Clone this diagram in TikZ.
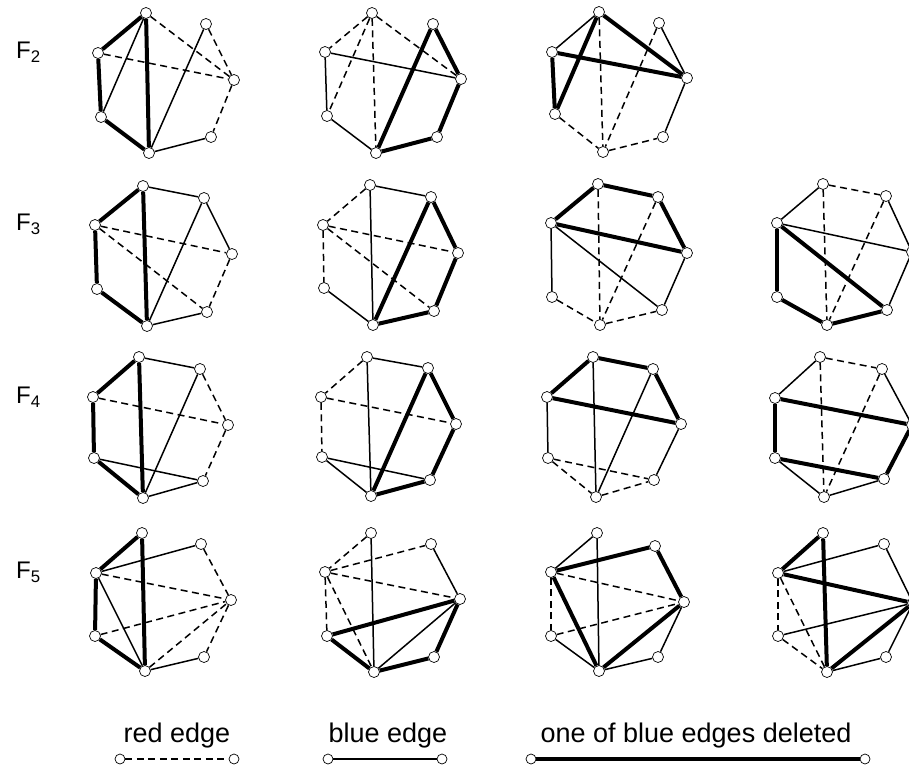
\documentclass[tikz,border=0pt]{standalone}
\usepackage{fontspec}
\setmainfont{Liberation Sans}
\newcommand\mkgraph[2]{\foreach \i/\p in {#2}{\node[vtx] (#1\i) at (\p) {};}}
\newcommand\edges[3]{\foreach \a/\b in {#3}{\draw[#2] (#1\a) -- (#1\b);}}
\begin{document}
\begin{tikzpicture}[x=1pt,y=-1pt,
  vtx/.style={circle,draw,fill=white,line width=0.7pt,inner sep=0pt,minimum size=11pt},
  redE/.style={line width=1.5pt,dash pattern=on 7pt off 4.5pt},
  blueE/.style={line width=1.5pt},
  delE/.style={line width=4pt},
  lab/.style={font=\fontsize{24}{28}\selectfont,anchor=base west,inner sep=0pt},
  leg/.style={font=\fontsize{27}{32}\selectfont,anchor=base,inner sep=0pt}]
\useasboundingbox (0,0) rectangle (909,773);
\fill[white] (0,0) rectangle (909,773);

% labels
\node[lab] (f2) at (16,58.6) {F\textsubscript{2}};
\node[lab] (f3) at (16,230.6) {F\textsubscript{3}};
\node[lab] (f4) at (16,403.6) {F\textsubscript{4}};
\node[lab] (f5) at (16,578.6) {F\textsubscript{5}};

% row 1
\mkgraph{A}{1/{146,13},2/{206,24},3/{234,80},4/{211,137},5/{149,153},6/{101,117},7/{98,53}}
\mkgraph{B}{1/{372,13},2/{433,24},3/{461,79},4/{437,137},5/{376,153},6/{327,116},7/{325,52}}
\mkgraph{C}{1/{599,12},2/{659,23},3/{687,78},4/{663,137},5/{603,152},6/{555,114},7/{552,52}}
% row 2
\mkgraph{D}{1/{143,186},2/{204,198},3/{232,254},4/{207,312},5/{147,326},6/{97,289},7/{95,225}}
\mkgraph{E}{1/{370,185},2/{431,197},3/{458,253},4/{434,311},5/{373,325},6/{324,288},7/{323,225}}
\mkgraph{F}{1/{598,184},2/{658,197},3/{687,253},4/{662,310},5/{600,325},6/{552,297},7/{551,223}}
\mkgraph{G}{1/{823,184},2/{886,196},3/{912,252},4/{887,310},5/{827,325},6/{777,297},7/{777,223}}
% row 3
\mkgraph{H}{1/{139,357},2/{200,369},3/{228,425},4/{203,481},5/{143,498},6/{94,458},7/{93,397}}
\mkgraph{I}{1/{367,357},2/{428,368},3/{456,424},4/{430,480},5/{371,496},6/{322,457},7/{321,397}}
\mkgraph{J}{1/{593,357},2/{653,369},3/{681,424},4/{654,480},5/{596,497},6/{548,458},7/{547,397}}
\mkgraph{K}{1/{820,357},2/{882,369},3/{912,425},4/{884,479},5/{824,497},6/{775,458},7/{775,398}}
% row 4
\mkgraph{L}{1/{142,533},2/{201,544},3/{231,600},4/{204,657},5/{145,671},6/{95,636},7/{96,573}}
\mkgraph{M}{1/{371,533},2/{431,544},3/{460,599},4/{434,657},5/{374,672},6/{327,636},7/{325,572}}
\mkgraph{N}{1/{597,533},2/{655,546},3/{684,602},4/{658,657},5/{599,671},6/{551,636},7/{551,572}}
\mkgraph{O}{1/{823,533},2/{884,544},3/{913,603},4/{886,657},5/{827,672},6/{778,636},7/{778,573}}

% edges row 1
\edges{A}{delE}{1/7,7/6,6/5,1/5}
\edges{A}{blueE}{1/6,2/5,5/4}
\edges{A}{redE}{1/3,7/3,2/3,3/4}
\edges{B}{redE}{1/7,1/6,1/5,1/3}
\edges{B}{blueE}{7/3,7/6,6/5}
\edges{B}{delE}{2/5,2/3,3/4,4/5}
\edges{C}{blueE}{1/7,2/3,3/4}
\edges{C}{delE}{1/6,1/3,7/3,7/6}
\edges{C}{redE}{1/5,2/5,6/5,5/4}
% edges row 2
\edges{D}{delE}{1/7,1/5,7/6,6/5}
\edges{D}{blueE}{1/2,2/3,2/5,5/4}
\edges{D}{redE}{7/3,7/4,3/4}
\edges{E}{redE}{1/7,7/6,7/3,7/4}
\edges{E}{blueE}{1/2,1/5,6/5}
\edges{E}{delE}{2/5,2/3,3/4,4/5}
\edges{F}{delE}{1/7,1/2,2/3,7/3}
\edges{F}{redE}{1/5,2/5,6/5,5/4}
\edges{F}{blueE}{7/4,7/6,3/4}
\edges{G}{blueE}{1/7,2/3,7/3,3/4}
\edges{G}{redE}{1/2,1/5,2/5}
\edges{G}{delE}{7/4,7/6,6/5,5/4}
% edges row 3
\edges{H}{delE}{1/7,1/5,7/6,6/5}
\edges{H}{blueE}{1/2,2/5,6/4,5/4}
\edges{H}{redE}{2/3,7/3,3/4}
\edges{I}{redE}{1/7,7/3,7/6}
\edges{I}{blueE}{1/2,1/5,6/4,6/5}
\edges{I}{delE}{2/5,2/3,3/4,5/4}
\edges{J}{delE}{1/7,1/2,2/3,7/3}
\edges{J}{blueE}{1/5,2/5,7/6,3/4}
\edges{J}{redE}{6/4,6/5,5/4}
\edges{K}{blueE}{1/7,2/3,6/5,5/4}
\edges{K}{redE}{1/2,1/5,2/5}
\edges{K}{delE}{7/3,7/6,6/4,3/4}
% edges row 4
\edges{L}{delE}{1/7,1/5,7/6,6/5}
\edges{L}{blueE}{7/2,7/5,5/4}
\edges{L}{redE}{7/3,2/3,6/3,5/3,3/4}
\edges{M}{redE}{1/7,7/2,7/3,7/6,7/5}
\edges{M}{blueE}{1/5,2/3,5/3}
\edges{M}{delE}{6/3,6/5,5/4,3/4}
\edges{N}{blueE}{1/7,1/5,6/5,5/4,3/4}
\edges{N}{delE}{7/2,7/5,2/3,5/3}
\edges{N}{redE}{7/3,7/6,6/3}
\edges{O}{delE}{1/7,1/5,7/3,5/3}
\edges{O}{blueE}{7/2,2/3,6/3,5/4,3/4}
\edges{O}{redE}{7/6,7/5,6/5}

% legend
\node[leg] (t1) at (177,742) {red edge};
\node[leg] (t2) at (388,742) {blue edge};
\node[leg] (t3) at (696,742) {one of blue edges deleted};
\node[vtx,minimum size=10pt] (ra) at (120,759) {};
\node[vtx,minimum size=10pt] (rb) at (234,759) {};
\node[vtx,minimum size=10pt] (ba) at (328,759) {};
\node[vtx,minimum size=10pt] (bb) at (442,759) {};
\node[vtx,minimum size=10pt] (da) at (531,759) {};
\node[vtx,minimum size=10pt] (db) at (865,759) {};
\draw[redE] (ra) -- (rb);
\draw[blueE] (ba) -- (bb);
\draw[delE] (da) -- (db);
\end{tikzpicture}
\end{document}
